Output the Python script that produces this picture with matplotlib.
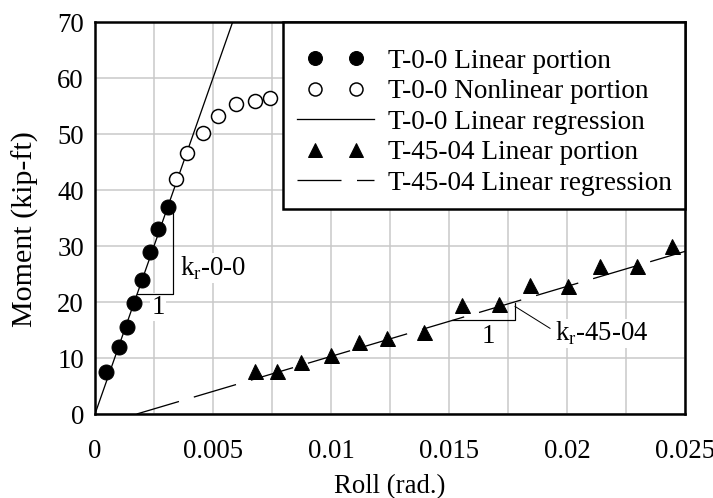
import matplotlib
matplotlib.use("Agg")
import matplotlib.pyplot as plt
from matplotlib.legend_handler import HandlerLine2D
from matplotlib.ticker import MultipleLocator, FuncFormatter

# T-0-0 specimen, linear part of the moment-roll curve
roll_t00_lin = [0.00047, 0.00102, 0.00137, 0.00165, 0.00200, 0.00233, 0.00268, 0.00308]
moment_t00_lin = [7.5, 12.0, 15.5, 19.8, 24.0, 29.0, 33.0, 37.0]

# T-0-0 specimen, nonlinear part
roll_t00_nl = [0.00342, 0.00390, 0.00456, 0.00520, 0.00596, 0.00680, 0.00740]
moment_t00_nl = [41.9, 46.6, 50.2, 53.2, 55.4, 55.9, 56.5]

# T-45-04 specimen, linear part
roll_t45 = [0.00678, 0.00770, 0.00873, 0.01000, 0.01120, 0.01239, 0.01395,
            0.01555, 0.01713, 0.01843, 0.02006, 0.02140, 0.02295, 0.02444]
moment_t45 = [7.6, 7.6, 9.3, 10.5, 12.9, 13.6, 14.7,
              19.4, 19.7, 23.0, 22.8, 26.4, 26.4, 30.0]

# regression fits (kip-ft/rad) and x-intercept of the T-45-04 fit
kr_t00 = 12000.0
kr_t45 = 1250.0
x0_t45 = 0.00177

plt.rcParams['font.family'] = ['Liberation Serif', 'DejaVu Serif']
plt.rcParams['mathtext.fontset'] = 'custom'
plt.rcParams['mathtext.rm'] = 'Liberation Serif'
plt.rcParams['lines.scale_dashes'] = False
fs = 26.8

fig = plt.figure(figsize=(713 / 72, 498 / 72), dpi=72)
ax = fig.add_axes([95 / 713, 84 / 498, 590 / 713, 392 / 498])

# regression lines
xr = [0, 0.0065]
reg00, = ax.plot(xr, [kr_t00 * x for x in xr], color='black', lw=1.3,
                 label='T-0-0 Linear regression', zorder=3)
xr2 = [x0_t45, 0.026]
reg45, = ax.plot(xr2, [kr_t45 * (x - x0_t45) for x in xr2], color='black', lw=1.3,
                 dashes=(44, 15.5), label='T-45-04 Linear regression', zorder=3)

# test points
p00, = ax.plot(roll_t00_lin, moment_t00_lin, 'o', color='black', ms=15,
               label='T-0-0 Linear portion', zorder=4)
p00nl, = ax.plot(roll_t00_nl, moment_t00_nl, 'o', mfc='white', mec='black', mew=1.5, ms=14,
                 label='T-0-0 Nonlinear portion', zorder=4)
p45, = ax.plot(roll_t45, moment_t45, '^', color='black', ms=15,
               label='T-45-04 Linear portion', zorder=4)

# slope triangles
ax.plot([0.00179, 0.00329, 0.00329], [21.5, 21.5, 37.0], color='black', lw=1.2, zorder=3)
ax.plot([0.01511, 0.01780, 0.01780], [16.8, 16.8, 19.9], color='black', lw=1.2, zorder=3)
ax.plot([0.01780, 0.01928], [19.2, 15.3], color='black', lw=1.0, zorder=3)

box = dict(facecolor='white', edgecolor='none', pad=1)
ax.text(0.0036, 26.1, 'k$_{\\mathrm{r}}$-0-0', fontsize=fs, va='center', ha='left', bbox=box, zorder=2)
ax.text(0.00267, 19.1, '1', fontsize=fs, va='center', ha='center', bbox=box, zorder=2)
ax.text(0.01949, 14.4, 'k$_{\\mathrm{r}}$-45-04', fontsize=fs, va='center', ha='left', bbox=box, zorder=2)
ax.text(0.01667, 13.9, '1', fontsize=fs, va='center', ha='center', bbox=box, zorder=2)

ax.set_xlim(0, 0.025)
ax.set_ylim(0, 70)
ax.xaxis.set_major_locator(MultipleLocator(0.005))
ax.xaxis.set_minor_locator(MultipleLocator(0.0025))
ax.yaxis.set_major_locator(MultipleLocator(10))
ax.xaxis.set_major_formatter(FuncFormatter(lambda v, p: f'{v:g}'))
ax.tick_params(which='both', length=0, labelsize=fs)
ax.tick_params(axis='x', pad=25)
ax.tick_params(axis='y', pad=11)
ax.grid(True, which='both', color='#c8c8c8', lw=1.5)
ax.set_axisbelow(True)
for s in ax.spines.values():
    s.set_linewidth(2.5)

ax.set_xlabel('Roll (rad.)', fontsize=fs, labelpad=10)
ax.set_ylabel('Moment (kip-ft)', fontsize=30)
ax.yaxis.set_label_coords(-0.095, 0.472)

handles = [p00, p00nl, reg00, p45, reg45]
labels = [h.get_label() for h in handles]
pts = HandlerLine2D(marker_pad=0.68)
lns = HandlerLine2D(marker_pad=0)
leg = ax.legend(handles, labels, loc='upper right', bbox_to_anchor=(1, 1),
                borderaxespad=0, prop={'size': 27.3}, numpoints=2, markerscale=0.93,
                handlelength=2.85, handletextpad=0.5, borderpad=0.48, labelspacing=0.2,
                fancybox=False, framealpha=1, edgecolor='black',
                title=' ', title_fontsize=8,
                handler_map={p00: pts, p00nl: pts, p45: pts, reg00: lns, reg45: lns})
leg.get_frame().set_linewidth(2.5)

fig.savefig('out.png', dpi=72)
